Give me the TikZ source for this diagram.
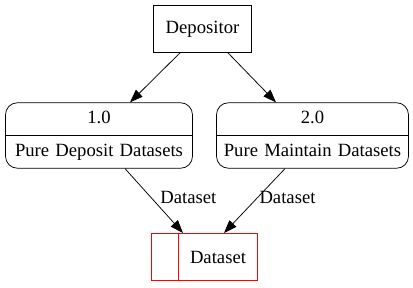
\documentclass[tikz,border=0pt]{standalone}
\usepackage{fontspec}
\setmainfont{Liberation Serif}
\usetikzlibrary{arrows.meta,shapes.multipart}

\tikzset{
  entity/.style={draw, rectangle, minimum width=98pt, minimum height=47pt, inner sep=0pt},
  process/.style={draw, rectangle split, rectangle split parts=2, rounded corners=12pt,
    align=center, inner xsep=2pt, inner ysep=5pt},
  store/.style={draw=red, line width=1pt, rectangle, minimum width=106pt, minimum height=47pt, inner sep=0pt},
  flow/.style={-{Triangle[length=13pt,width=9.5pt]}},
  flowlabel/.style={inner sep=0pt}
}

\begin{document}
\begin{tikzpicture}[x=1pt, y=-1pt, line width=0.75pt, font=\fontsize{18.67}{22}\selectfont]

  \useasboundingbox (0,0) rectangle (413,288);

  \node [entity] (dep) at (202.5,29) {Depositor};

  \node [process, text width=183pt] (p1) at (99,135.5)
    {\strut 1.0 \nodepart{two} \strut Pure Deposit Datasets};
  \node [process, text width=188pt] (p2) at (312.5,135.5)
    {\strut 2.0 \nodepart{two} \strut Pure Maintain Datasets};

  % data store: small empty box on the left, name on the right
  \node [store] (ds) at (204.5,257) {};
  \draw [red, line width=1pt] ([xshift=27pt]ds.north west) -- ([xshift=27pt]ds.south west);
  \node (dsname) at (218,257) {Dataset};

  \draw [flow] ([xshift=-22.5pt]dep.south) -- ([xshift=31pt]p1.north);
  \draw [flow] ([xshift=25.5pt]dep.south) -- ([xshift=-36.5pt]p2.north);

  \draw [flow] ([xshift=26pt]p1.south) -- ([xshift=-21.5pt]ds.north);
  \draw [flow] ([xshift=-27.5pt]p2.south) -- ([xshift=19.5pt]ds.north);

  \node [flowlabel] (l1) at (188.3,197.5) {Dataset};
  \node [flowlabel] (l2) at (287.5,197.5) {Dataset};

\end{tikzpicture}
\end{document}
